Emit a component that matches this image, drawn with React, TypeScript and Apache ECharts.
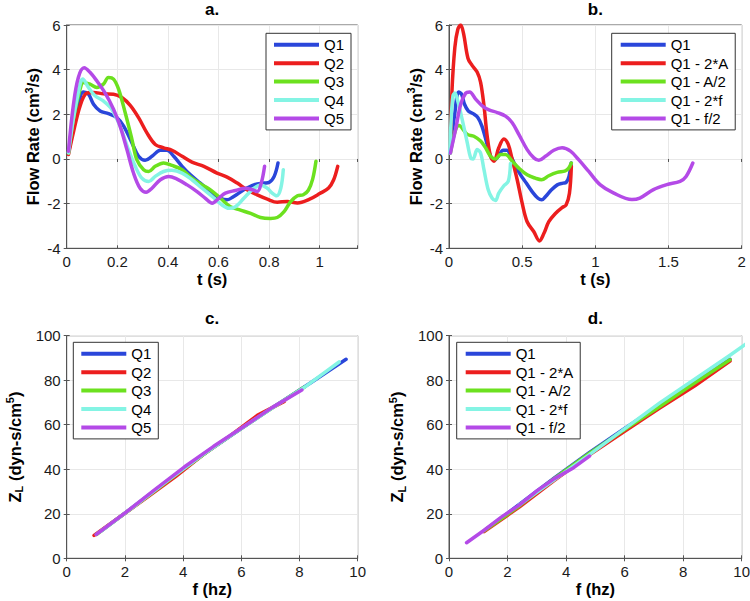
import React, { useEffect, useRef } from 'react';
import * as echarts from 'echarts';

const FONT = '"Liberation Sans", Arial, Helvetica, sans-serif';
const BLUE = '#2a46da';
const RED = '#ec1e1e';
const GREEN = '#6ce11f';
const CYAN = '#84f4e4';
const PURPLE = '#b44ae7';
const COLORS = [BLUE, RED, GREEN, CYAN, PURPLE];

const titles = ['a.', 'b.', 'c.', 'd.'];
const namesAC = ['Q1', 'Q2', 'Q3', 'Q4', 'Q5'];
const namesBD = ['Q1', 'Q1 - 2*A', 'Q1 - A/2', 'Q1 - 2*f', 'Q1 - f/2'];

// ---- Panel a: flow rate vs time ----
const aQ1T = [0.007, 0.04, 0.066, 0.086, 0.106, 0.132, 0.165, 0.198, 0.225, 0.258, 0.284, 0.31, 0.337, 0.37, 0.396, 0.423, 0.456, 0.489, 0.528, 0.568, 0.608, 0.634, 0.66, 0.7, 0.74, 0.78, 0.8, 0.82, 0.835];
const aQ1V = [0.27, 2.07, 3.0, 2.9, 2.45, 2.15, 2.03, 1.85, 1.47, 0.72, 0.12, -0.06, 0.12, 0.39, 0.39, 0.12, -0.33, -0.71, -1.08, -1.46, -1.76, -1.83, -1.68, -1.38, -1.16, -1.08, -1.05, -0.78, -0.18];
const aQ2T = [0.007, 0.026, 0.053, 0.079, 0.106, 0.145, 0.185, 0.218, 0.251, 0.284, 0.317, 0.35, 0.383, 0.416, 0.456, 0.495, 0.542, 0.594, 0.634, 0.674, 0.713, 0.753, 0.793, 0.832, 0.872, 0.912, 0.96, 1.0, 1.035, 1.055, 1.071];
const aQ2V = [0.2, 1.17, 2.38, 2.95, 2.98, 2.92, 2.9, 2.75, 2.4, 1.85, 1.17, 0.65, 0.5, 0.39, 0.12, -0.14, -0.33, -0.63, -0.81, -1.08, -1.38, -1.61, -1.8, -1.94, -1.9, -1.97, -1.8, -1.55, -1.3, -0.93, -0.33];
const aQ3T = [0.007, 0.026, 0.053, 0.066, 0.092, 0.119, 0.145, 0.165, 0.185, 0.205, 0.231, 0.258, 0.277, 0.304, 0.324, 0.35, 0.383, 0.416, 0.456, 0.495, 0.535, 0.568, 0.608, 0.647, 0.687, 0.727, 0.766, 0.806, 0.832, 0.859, 0.885, 0.912, 0.935, 0.955, 0.972, 0.985];
const aQ3V = [0.27, 1.77, 3.13, 3.43, 3.35, 3.2, 3.35, 3.65, 3.58, 3.13, 2.08, 0.87, -0.03, -0.48, -0.56, -0.33, -0.18, -0.29, -0.48, -0.86, -1.16, -1.38, -1.76, -2.14, -2.29, -2.44, -2.62, -2.66, -2.62, -2.36, -1.91, -1.65, -1.6, -1.4, -0.9, -0.1];
const aQ4T = [0.007, 0.026, 0.053, 0.063, 0.086, 0.112, 0.145, 0.178, 0.211, 0.244, 0.271, 0.297, 0.324, 0.35, 0.383, 0.416, 0.456, 0.495, 0.535, 0.575, 0.614, 0.641, 0.667, 0.7, 0.733, 0.766, 0.793, 0.812, 0.83, 0.846, 0.856];
const aQ4V = [0.27, 1.77, 3.35, 3.58, 3.2, 2.83, 2.6, 2.23, 1.47, 0.42, -0.33, -0.86, -1.01, -0.78, -0.56, -0.51, -0.63, -0.93, -1.31, -1.68, -2.06, -2.21, -2.14, -1.76, -1.38, -1.16, -1.31, -1.53, -1.65, -1.31, -0.48];
const aQ5T = [0.007, 0.026, 0.046, 0.069, 0.092, 0.119, 0.152, 0.185, 0.211, 0.238, 0.264, 0.29, 0.314, 0.337, 0.37, 0.403, 0.436, 0.476, 0.515, 0.548, 0.575, 0.601, 0.627, 0.667, 0.707, 0.733, 0.753, 0.769, 0.782];
const aQ5V = [0.35, 2.38, 3.65, 4.08, 3.88, 3.5, 2.95, 2.23, 1.47, 0.42, -0.63, -1.31, -1.49, -1.31, -0.93, -0.78, -0.9, -1.16, -1.46, -1.76, -1.98, -1.76, -1.53, -1.41, -1.31, -1.38, -1.46, -1.08, -0.33];

// ---- Panel b: flow rate vs time (variants of Q1) ----
const b2AT = [0.01, 0.02, 0.04, 0.06, 0.08, 0.1, 0.13, 0.159, 0.193, 0.216, 0.239, 0.261, 0.284, 0.307, 0.34, 0.375, 0.405, 0.432, 0.466, 0.5, 0.534, 0.58, 0.618, 0.648, 0.682, 0.727, 0.773, 0.8, 0.823, 0.836];
const b2AV = [0.5, 3.0, 5.0, 5.8, 6.0, 5.6, 4.5, 4.18, 3.88, 3.43, 2.38, 1.02, 0.12, -0.1, 0.5, 0.9, 0.65, -0.03, -0.93, -1.98, -2.81, -3.26, -3.67, -3.34, -2.81, -2.44, -2.18, -2.06, -1.53, -0.33];
const bA2T = [0.01, 0.04, 0.068, 0.125, 0.17, 0.216, 0.25, 0.284, 0.318, 0.352, 0.386, 0.432, 0.477, 0.534, 0.59, 0.632, 0.682, 0.739, 0.795, 0.818, 0.836];
const bA2V = [0.27, 1.2, 1.5, 1.1, 1.02, 0.8, 0.5, 0.12, 0.0, 0.2, 0.2, -0.1, -0.41, -0.71, -0.86, -0.93, -0.75, -0.6, -0.53, -0.41, -0.18];
const b2fT = [0.005, 0.015, 0.027, 0.04, 0.06, 0.09, 0.125, 0.148, 0.164, 0.193, 0.216, 0.239, 0.268, 0.295, 0.318, 0.34, 0.375, 0.405, 0.42];
const b2fV = [0.27, 1.8, 2.83, 2.95, 2.6, 1.77, 0.72, 0.05, 0.0, 0.42, 0.27, -0.48, -1.38, -1.76, -1.86, -1.53, -1.2, -1.0, -0.2];
const bf2T = [0.01, 0.045, 0.08, 0.114, 0.141, 0.182, 0.227, 0.273, 0.33, 0.386, 0.432, 0.477, 0.534, 0.58, 0.614, 0.659, 0.716, 0.773, 0.83, 0.886, 0.955, 1.032, 1.123, 1.25, 1.304, 1.397, 1.488, 1.579, 1.62, 1.666];
const bf2V = [0.27, 1.32, 2.45, 2.95, 3.0, 2.68, 2.38, 2.2, 2.08, 1.92, 1.62, 1.1, 0.42, 0.05, -0.06, 0.12, 0.39, 0.5, 0.35, -0.03, -0.56, -1.15, -1.52, -1.82, -1.75, -1.37, -1.15, -1.0, -0.78, -0.18];

// ---- Panel c: impedance vs frequency ----
const cQ1F = [1.2, 2.4, 3.6, 4.8, 6.0, 7.2, 8.4, 9.6];
const cQ1Z = [12.4, 24.2, 36.1, 47.6, 58.3, 68.8, 79.0, 89.4];
const cQ2F = [0.94, 1.87, 2.81, 3.74, 4.68, 5.61, 6.55, 7.48];
const cQ2Z = [10.3, 19.0, 27.8, 36.7, 46.5, 55.0, 64.2, 70.5];
const cQ3F = [1.02, 2.04, 3.06, 4.08, 5.1, 6.12, 7.14, 8.16];
const cQ3Z = [10.7, 20.6, 30.6, 40.8, 50.4, 59.4, 68.2, 76.8];
const cQ4F = [1.17, 2.34, 3.51, 4.68, 5.85, 7.02, 8.19, 9.36];
const cQ4Z = [12.1, 23.6, 35.3, 46.6, 57.0, 67.2, 77.0, 88.2];
const cQ5F = [1.01, 2.02, 3.03, 4.04, 5.05, 6.06, 7.07, 8.08];
const cQ5Z = [10.7, 20.5, 30.8, 41.0, 50.3, 59.0, 67.8, 75.6];

// ---- Panel d: impedance vs frequency (variants of Q1) ----
const d2AF = [1.2, 2.4, 3.6, 4.8, 6.0, 7.2, 8.4, 9.6];
const d2AZ = [12.0, 23.0, 35.0, 46.5, 57.0, 67.5, 77.5, 88.6];
const dA2F = [1.2, 2.4, 3.6, 4.8, 6.0, 7.2, 8.4, 9.6];
const dA2Z = [12.3, 23.5, 35.9, 47.2, 57.8, 68.2, 78.8, 89.2];
const d2fF = [2.4, 4.8, 7.2, 9.6, 12.0];
const d2fZ = [24.0, 46.6, 69.8, 91.2, 113.6];
const df2F = [0.6, 1.2, 1.8, 2.4, 3.0, 3.6, 4.2, 4.8];
const df2Z = [7.0, 12.6, 18.6, 23.9, 30.3, 35.8, 40.2, 45.9];

const zip = (xs: number[], ys: number[]) => xs.map((x, i) => [x, ys[i]]);

const panelSeries: { x: number[]; y: number[] }[][] = [
  [
    { x: aQ1T, y: aQ1V }, { x: aQ2T, y: aQ2V }, { x: aQ3T, y: aQ3V }, { x: aQ4T, y: aQ4V }, { x: aQ5T, y: aQ5V },
  ],
  [
    { x: aQ1T, y: aQ1V }, { x: b2AT, y: b2AV }, { x: bA2T, y: bA2V }, { x: b2fT, y: b2fV }, { x: bf2T, y: bf2V },
  ],
  [
    { x: cQ1F, y: cQ1Z }, { x: cQ2F, y: cQ2Z }, { x: cQ3F, y: cQ3Z }, { x: cQ4F, y: cQ4Z }, { x: cQ5F, y: cQ5Z },
  ],
  [
    { x: cQ1F, y: cQ1Z }, { x: d2AF, y: d2AZ }, { x: dA2F, y: dA2Z }, { x: d2fF, y: d2fZ }, { x: df2F, y: df2Z },
  ],
];

const gridBoxes = [
  { left: 66.7, top: 25, width: 291, height: 223.3 },
  { left: 449, top: 25, width: 292.7, height: 223.3 },
  { left: 66.7, top: 335.7, width: 291, height: 222.6 },
  { left: 449, top: 335.7, width: 292.7, height: 222.6 },
];
const xRanges = [
  { min: 0, max: 1.15, interval: 0.2 },
  { min: 0, max: 2, interval: 0.5 },
  { min: 0, max: 10, interval: 2 },
  { min: 0, max: 10, interval: 2 },
];
const yRanges = [
  { min: -4, max: 6, interval: 2 },
  { min: -4, max: 6, interval: 2 },
  { min: 0, max: 100, interval: 20 },
  { min: 0, max: 100, interval: 20 },
];
const xNames = ['t (s)', 't (s)', 'f (hz)', 'f (hz)'];
const yNames = [
  'Flow Rate (cm{sup|3}/s)',
  'Flow Rate (cm{sup|3}/s)',
  'Z{sub|L} (dyn-s/cm{sup|5})',
  'Z{sub|L} (dyn-s/cm{sup|5})',
];
const legendBoxes = [
  { left: 266, top: 33.3, padL: 8 },
  { left: 611.7, top: 33.3, padL: 9 },
  { left: 73.3, top: 342.3, padL: 8 },
  { left: 456.7, top: 342.3, padL: 9 },
];

const AXIS_COLOR = '#555';
const LABEL_COLOR = '#1a1a1a';
const NAME_SIZE = 16.5;

function buildOption() {
  const grid: any[] = [];
  const xAxis: any[] = [];
  const yAxis: any[] = [];
  const series: any[] = [];
  const title: any[] = [];
  const legend: any[] = [];
  const nameStyle = {
    fontFamily: FONT,
    fontSize: NAME_SIZE,
    fontWeight: 'bold',
    color: '#000',
    lineHeight: 20,
    rich: {
      sup: { fontFamily: FONT, fontSize: 11, fontWeight: 'bold', color: '#000', verticalAlign: 'top', lineHeight: 11 },
      sub: { fontFamily: FONT, fontSize: 11, fontWeight: 'bold', color: '#000', verticalAlign: 'bottom', lineHeight: 11 },
    },
  };
  for (let p = 0; p < 4; p++) {
    const g = gridBoxes[p];
    grid.push({
      ...g,
      show: true,
      borderColor: AXIS_COLOR,
      borderWidth: 1,
      backgroundColor: '#fff',
      outerBoundsMode: 'none',
      containLabel: false,
    });
    title.push({
      text: titles[p],
      left: g.left + g.width / 2,
      top: p < 2 ? 1 : 310,
      textAlign: 'center',
      padding: 0,
      textStyle: { fontFamily: FONT, fontSize: 17, fontWeight: 'bold', color: '#000' },
    });
    const xr = xRanges[p];
    xAxis.push({
      type: 'value',
      gridIndex: p,
      position: 'bottom',
      min: xr.min,
      max: xr.max,
      interval: xr.interval,
      name: xNames[p],
      nameLocation: 'middle',
      nameGap: 20,
      nameTextStyle: { fontFamily: FONT, fontSize: NAME_SIZE, fontWeight: 'bold', color: '#000' },
      axisLine: { show: true, onZero: false, lineStyle: { color: AXIS_COLOR } },
      axisTick: { show: true, inside: true, length: 3, lineStyle: { color: AXIS_COLOR } },
      axisLabel: {
        show: true,
        margin: 6,
        fontFamily: FONT,
        fontSize: 15,
        color: LABEL_COLOR,
        formatter: (v: number) => (Math.abs(v - 1.15) < 1e-6 ? '' : String(+v.toFixed(2))),
      },
      splitLine: { show: true, lineStyle: { color: '#e8e8e8', width: 1 } },
    });
    const yr = yRanges[p];
    yAxis.push({
      type: 'value',
      gridIndex: p,
      position: 'left',
      min: yr.min,
      max: yr.max,
      interval: yr.interval,
      name: yNames[p],
      nameLocation: 'middle',
      nameRotate: 90,
      nameGap: p < 2 ? 20 : 42,
      nameTextStyle: nameStyle,
      axisLine: { show: true, onZero: false, lineStyle: { color: AXIS_COLOR } },
      axisTick: { show: true, inside: true, length: 3, lineStyle: { color: AXIS_COLOR } },
      axisLabel: { show: true, margin: 6, fontFamily: FONT, fontSize: 15, color: LABEL_COLOR },
      splitLine: { show: true, lineStyle: { color: '#e8e8e8', width: 1 } },
    });
    const names = p % 2 === 0 ? namesAC : namesBD;
    panelSeries[p].forEach((s, k) => {
      series.push({
        type: 'line',
        name: names[k],
        xAxisIndex: p,
        yAxisIndex: p,
        data: zip(s.x, s.y),
        symbol: 'none',
        showSymbol: false,
        smooth: p < 2 ? 0.35 : false,
        clip: true,
        color: COLORS[k],
        lineStyle: { color: COLORS[k], width: 3.5, cap: 'round', join: 'round' },
        z: 3 + k,
      });
    });
    const lb = legendBoxes[p];
    legend.push({
      data: names.map((n) => ({ name: n, icon: 'rect' })),
      orient: 'vertical',
      left: lb.left,
      top: lb.top,
      itemWidth: 45,
      itemHeight: 4,
      itemGap: 3.4,
      padding: [4, 7, 4, lb.padL],
      borderColor: '#333',
      borderWidth: 1,
      backgroundColor: '#fff',
      selectedMode: false,
      textStyle: { fontFamily: FONT, fontSize: 15, color: '#000', lineHeight: 15 },
    });
  }
  // top & right tick marks (box on)
  for (let p = 0; p < 4; p++) {
    const xr = xRanges[p];
    const yr = yRanges[p];
    xAxis.push({
      type: 'value', gridIndex: p, position: 'top', min: xr.min, max: xr.max, interval: xr.interval,
      axisLine: { show: false }, axisLabel: { show: false }, splitLine: { show: false },
      axisTick: { show: true, inside: true, length: 3, lineStyle: { color: AXIS_COLOR } },
    });
    yAxis.push({
      type: 'value', gridIndex: p, position: 'right', min: yr.min, max: yr.max, interval: yr.interval,
      axisLine: { show: false }, axisLabel: { show: false }, splitLine: { show: false },
      axisTick: { show: true, inside: true, length: 3, lineStyle: { color: AXIS_COLOR } },
    });
  }
  return {
    animation: false,
    backgroundColor: '#fff',
    textStyle: { fontFamily: FONT },
    title,
    legend,
    grid,
    xAxis,
    yAxis,
    series,
  };
}

export default function App() {
  const ref = useRef<HTMLDivElement>(null);
  useEffect(() => {
    if (!ref.current) return;
    const chart = echarts.init(ref.current, undefined, { renderer: 'svg' });
    chart.setOption(buildOption() as any);
    return () => chart.dispose();
  }, []);
  return (
    <div
      ref={ref}
      style={{ position: 'fixed', left: 0, top: 0, width: 750, height: 601, background: '#fff' }}
    />
  );
}
